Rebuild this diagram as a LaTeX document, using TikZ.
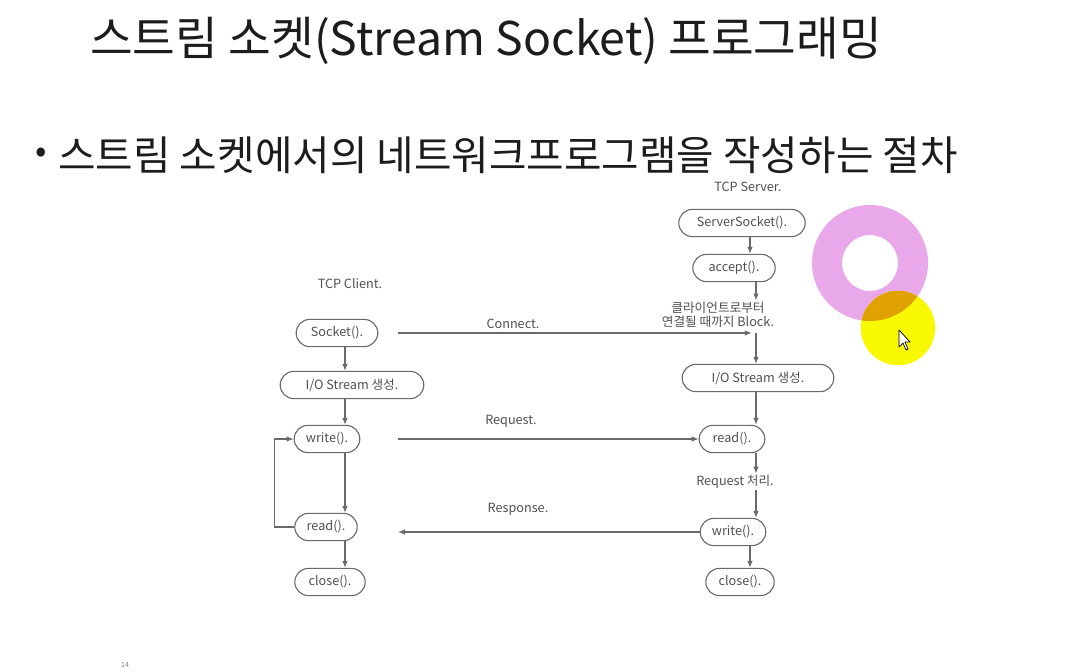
\documentclass[tikz,border=0pt]{standalone}
\usepackage{fontspec}
\setmainfont{Noto Sans CJK KR}
\usetikzlibrary{arrows.meta,shapes.misc}
\usepackage{xcolor}
\definecolor{titleblack}{HTML}{1C1C1C}
\definecolor{txtgray}{HTML}{505050}
\definecolor{boxgray}{HTML}{6A6A6A}
\definecolor{ringpink}{HTML}{E9A8EA}
\definecolor{hiyellow}{HTML}{F8F800}
\definecolor{hiorange}{HTML}{E0A200}

\begin{document}
\begin{tikzpicture}[x=0.025cm,y=-0.025cm,>={Latex[length=5pt,width=4pt]},
    fn/.style={rounded rectangle,draw=boxgray,line width=0.8pt,minimum height=0.68cm,
      inner sep=2pt,text=txtgray,font=\fontsize{9}{10}\selectfont},
    lbl/.style={text=txtgray,inner sep=1pt,font=\fontsize{9}{10}\selectfont},
    arr/.style={->,draw=boxgray,line width=0.8pt}]
    \useasboundingbox (0,0) rectangle (1074,672);

    % title and bullet
    \node[anchor=west,text=titleblack,inner sep=0pt,font=\fontsize{33}{38}\selectfont] (title) at (90,41) {스트림 소켓(Stream Socket) 프로그래밍};
    \node[text=titleblack,inner sep=0pt,font=\fontsize{24}{28}\selectfont] (dot) at (41,155) {•};
    \node[anchor=west,text=titleblack,inner sep=0pt,font=\fontsize{29}{34}\selectfont] (sub) at (58,155) {스트림 소켓에서의 네트워크프로그램을 작성하는 절차};

    % columns
    \coordinate (cx) at (345,0);
    \coordinate (sx) at (756,0);
    \coordinate (lx) at (398,0);

    % client
    \node[lbl] (cli) at (350,284) {TCP Client.};
    \node[fn,minimum width=2.18cm] (sock) at (337,333) {Socket().};
    \node[fn,minimum width=3.73cm] (cio) at (352,385) {I/O Stream 생성.};
    \node[fn,minimum width=1.78cm] (cwr) at (327,439) {write().};
    \node[fn,minimum width=1.7cm] (crd) at (326,527) {read().};
    \node[fn,minimum width=1.9cm] (ccl) at (330,582) {close().};

    % server
    \node[lbl] (srv) at (748,187) {TCP Server.};
    \node[fn,minimum width=3.3cm] (ssock) at (742,223) {ServerSocket().};
    \node[fn,minimum width=2.2cm] (acc) at (734,268) {accept().};
    \node[lbl,align=center] (blk) at (718,315) {클라이언트로부터\\연결될 때까지 Block.};
    \node[fn,minimum width=3.93cm] (sio) at (758,378) {I/O Stream 생성.};
    \node[fn,minimum width=1.78cm] (srd) at (732,439) {read().};
    \node[lbl] (proc) at (735,482) {Request 처리.};
    \node[fn,minimum width=1.78cm] (swr) at (733,532) {write().};
    \node[fn,minimum width=1.85cm] (scl) at (740,582) {close().};

    % message labels
    \node[lbl] (con) at (513,324) {Connect.};
    \node[lbl] (req) at (511,421) {Request.};
    \node[lbl] (res) at (518,509) {Response.};

    % client flow
    \draw[arr] (sock.south -| cx) -- (cio.north -| cx);
    \draw[arr] (cio.south -| cx) -- (cwr.north -| cx);
    \draw[arr] (cwr.south -| cx) -- (crd.north -| cx);
    \draw[arr] (crd.south -| cx) -- (ccl.north -| cx);
    \draw[arr] (crd.west) -- ++(-20,0) |- (cwr.west);

    % server flow
    \coordinate (sx0) at (750,0);
    \draw[arr] (ssock.south -| sx0) -- (acc.north -| sx0);
    \draw[arr] (acc.south -| sx) -- (blk.north -| sx);
    \draw[arr] (sock -| sx) -- (sio.north -| sx);
    \draw[arr] (sio.south -| sx) -- (srd.north -| sx);
    \draw[arr] (srd.south -| sx) -- (proc.north -| sx);
    \draw[arr] (proc.south -| sx) -- (swr.north -| sx);
    \draw[arr] (swr.south -| sx0) -- (scl.north -| sx0);

    % messages
    \draw[arr] (sock -| lx) -- ([xshift=-3pt]sock -| sx);
    \draw[arr] (cwr -| lx) -- (srd.west);
    \draw[arr] (swr.west) -- (swr.west -| lx);

    % page number
    \node[text=gray,font=\fontsize{5}{6}\selectfont] (pg) at (125,665) {14};

    % pointer highlight
    \fill[ringpink,even odd rule] (870,263) circle (1.45cm) (870,263) circle (0.7cm);
    \fill[hiyellow] (898,328) circle (0.93cm);
    \begin{scope}
      \clip (898,328) circle (0.93cm);
      \fill[hiorange,even odd rule] (870,263) circle (1.45cm) (870,263) circle (0.7cm);
    \end{scope}
    \filldraw[fill=white,draw=black,line width=0.5pt,line join=round]
      (899,330) -- (899,347) -- (903,343) -- (906,350) -- (908,349) -- (905,342) -- (910,342) -- cycle;
\end{tikzpicture}
\end{document}
